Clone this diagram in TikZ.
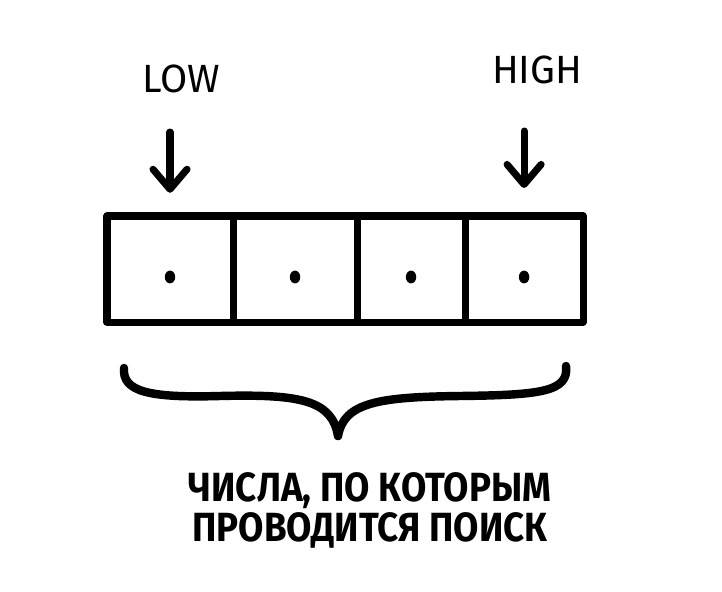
\documentclass[tikz,border=0pt]{standalone}
\usepackage{fontspec}
\newfontfamily\handfont{Fira Sans}
\usetikzlibrary{arrows.meta, positioning}

\begin{document}
\begin{tikzpicture}[x=0.025cm, y=-0.025cm, >={Straight Barb[length=5mm, width=8.5mm, round]},
  line cap=round, line join=round,
  cell/.style={draw, line width=5pt, outer sep=0pt, inner sep=0pt, minimum height=2.65cm},
  pointer/.style={font=\handfont\fontsize{28}{30}\selectfont},
  hand/.style={->, line width=5pt},
  caption/.style={font=\handfont\bfseries\fontsize{29}{28.5}\selectfont, align=center, xscale=0.9, transform shape}]
  \useasboundingbox (0,0) rectangle (722,591);
  % Array cells
  \node[cell, minimum width=3.15cm] (c1) at (170,269) {};
  \node[cell, minimum width=3.1cm, right=0pt of c1] (c2) {};
  \node[cell, minimum width=2.7cm, right=0pt of c2] (c3) {};
  \node[cell, minimum width=2.95cm, right=0pt of c3] (c4) {};
  \foreach \c in {c1,c2,c3,c4}
    \fill ([yshift=-0.2cm]\c.center) ellipse (0.13cm and 0.16cm);
  % Pointers
  \node[pointer] (low) at (181,79) {LOW};
  \node[pointer] (high) at (537,70) {HIGH};
  \draw[hand] ([yshift=-0.85cm]low.south -| c1.north) -- ([yshift=0.58cm]c1.north);
  \draw[hand] ([yshift=-1.05cm]high.south -| c4.north) -- ([yshift=0.7cm]c4.north);
  % Brace under the array
  \draw[line width=6pt] (124,368) .. controls (122,392) and (150,398) .. (220,396)
    .. controls (300,394) and (332,400) .. (338,436);
  \draw[line width=6pt] (338,436) .. controls (344,402) and (380,397) .. (460,396)
    .. controls (540,395) and (569,392) .. (566,366);
  % Caption
  \node[caption] (cap) at (370,510) {ЧИСЛА, ПО КОТОРЫМ\\ПРОВОДИТСЯ ПОИСК};
\end{tikzpicture}
\end{document}
